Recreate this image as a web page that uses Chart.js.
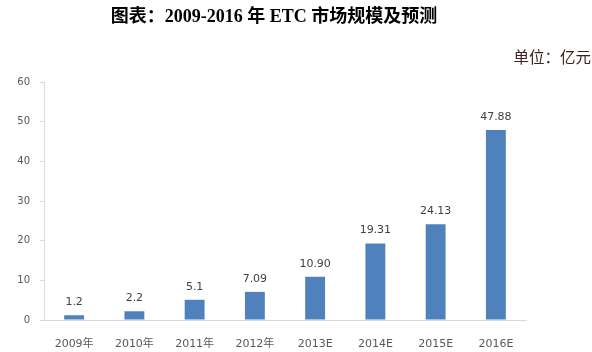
<!DOCTYPE html>
<html><head><meta charset="utf-8">
<script src="https://cdn.jsdelivr.net/npm/chart.js@4"></script>
<style>html,body{margin:0;padding:0;background:#fff;}#wrap{width:592px;height:352px;position:relative;}</style>
</head><body><div id="wrap"><canvas id="c" width="592" height="352"></canvas></div>
<script>
const categories = ["2009年","2010年","2011年","2012年","2013E","2014E","2015E","2016E"];
const values = [1.2, 2.2, 5.1, 7.09, 10.90, 19.31, 24.13, 47.88];
const valueLabels = ["1.2","2.2","5.1","7.09","10.90","19.31","24.13","47.88"];
const yTicks = [0,10,20,30,40,50,60];
const titleText = "图表：2009-2016 年 ETC 市场规模及预测";
const unitText = "单位：亿元";

const tickFont = {family: "'DejaVu Sans','Noto Sans CJK SC',sans-serif", size: 11};
const tickColor = "#595959";

const decor = {
  id: 'decor',
  afterDraw(chart) {
    const ctx = chart.ctx;
    ctx.save();
    ctx.fillStyle = '#000';
    ctx.font = "bold 18px 'Liberation Serif','Noto Sans CJK SC',serif";
    ctx.textAlign = 'center';
    ctx.textBaseline = 'middle';
    ctx.fillText(titleText, 274, 17);
    ctx.font = "15.5px 'Noto Sans CJK SC',sans-serif";
    ctx.fillStyle = '#3a2020';
    ctx.textAlign = 'right';
    ctx.fillText(unitText, 591, 57);
    // value labels
    const meta = chart.getDatasetMeta(0);
    ctx.font = "11px 'DejaVu Sans',sans-serif";
    ctx.fillStyle = '#404040';
    ctx.textAlign = 'center';
    meta.data.forEach((bar, i) => {
      ctx.fillText(valueLabels[i], bar.x, bar.y - 13);
    });
    ctx.restore();
  }
};

new Chart(document.getElementById('c'), {
  type: 'bar',
  data: {labels: categories, datasets: [{data: values, backgroundColor: '#4f81bd', barPercentage: 0.66, categoryPercentage: 0.5}]},
  options: {
    responsive: false, animation: false,
    layout: {padding: {left: 0, right: 66, top: 82, bottom: 0}},
    plugins: {legend: {display: false}, tooltip: {enabled: false}},
    scales: {
      x: {
        grid: {display: false},
        border: {display: true, color: '#d9d9d9'},
        ticks: {font: tickFont, color: tickColor, padding: 10, maxRotation: 0},
        afterFit: s => { s.height = 32; }
      },
      y: {
        min: 0, max: 60,
        afterBuildTicks: s => { s.ticks = yTicks.map(v => ({value: v})); },
        grid: {drawOnChartArea: false, drawTicks: true, tickLength: 4, color: '#d9d9d9'},
        border: {display: true, color: '#d9d9d9'},
        ticks: {font: {family: "'DejaVu Sans',sans-serif", size: 10}, color: tickColor, padding: 10},
        afterFit: s => { s.width = 44; }
      }
    }
  },
  plugins: [decor]
});
</script></body></html>
